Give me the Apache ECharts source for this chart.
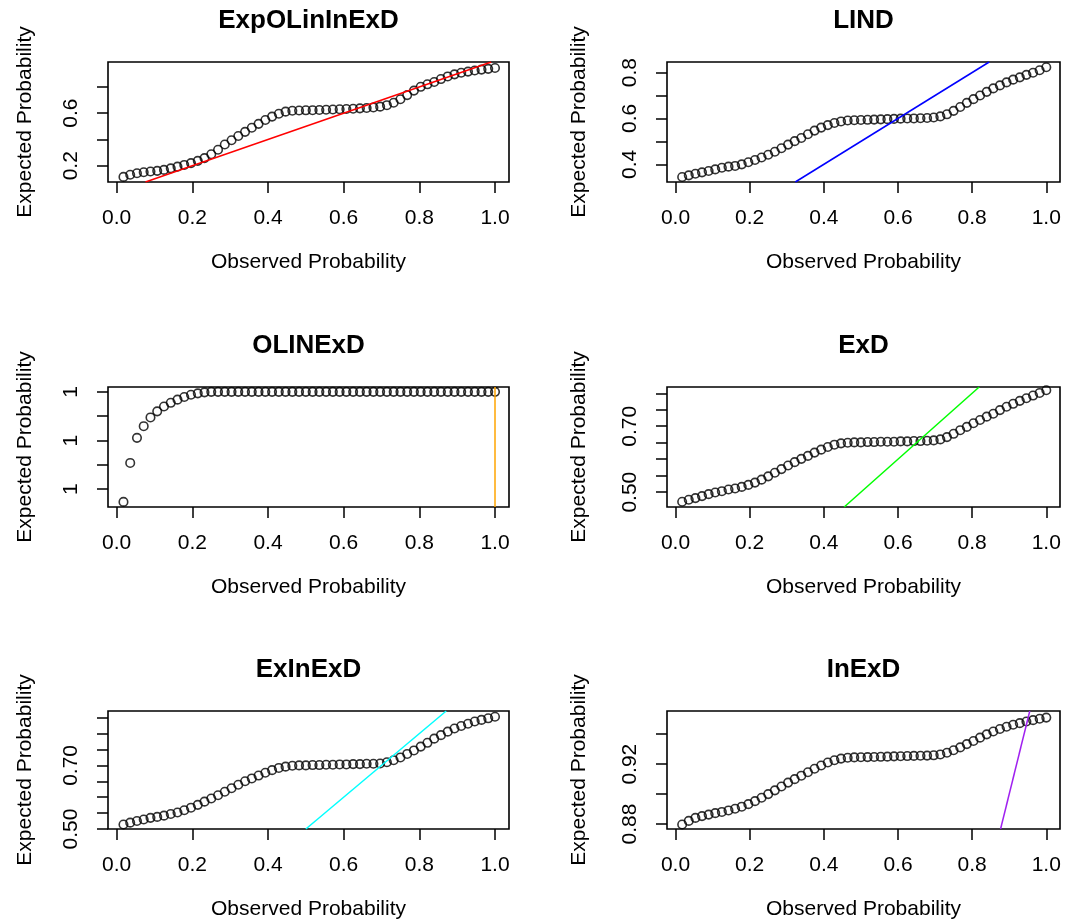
<!DOCTYPE html>
<html>
<head>
<meta charset="utf-8">
<title>PP plots</title>
<script src="https://cdn.jsdelivr.net/npm/echarts@6.0.0/dist/echarts.min.js"></script>
<style>
  html, body { margin: 0; padding: 0; background: #fff; }
  #main { width: 1072px; height: 921px; }
</style>
</head>
<body>
<div id="main"></div>
<script>
// observed probability (x) shared by every panel
const observed = [
  0.0179, 0.0357, 0.0536, 0.0714, 0.0893, 0.1071, 0.1250, 0.1429, 0.1607, 0.1786,
  0.1964, 0.2143, 0.2321, 0.2500, 0.2679, 0.2857, 0.3036, 0.3214, 0.3393, 0.3571,
  0.3750, 0.3929, 0.4107, 0.4286, 0.4464, 0.4643, 0.4821, 0.5000, 0.5179, 0.5357,
  0.5536, 0.5714, 0.5893, 0.6071, 0.6250, 0.6429, 0.6607, 0.6786, 0.6964, 0.7143,
  0.7321, 0.7500, 0.7679, 0.7857, 0.8036, 0.8214, 0.8393, 0.8571, 0.8750, 0.8929,
  0.9107, 0.9286, 0.9464, 0.9643, 0.9821, 1.0000
];

// expected probability, one list per model
const expOLinInExD = [
  0.115, 0.131, 0.143, 0.150, 0.156, 0.161, 0.168, 0.180, 0.193, 0.206,
  0.220, 0.237, 0.258, 0.287, 0.322, 0.362, 0.394, 0.426, 0.458, 0.489,
  0.519, 0.548, 0.574, 0.596, 0.612, 0.619, 0.621, 0.622, 0.623, 0.624,
  0.626, 0.628, 0.630, 0.632, 0.634, 0.637, 0.640, 0.644, 0.650, 0.661,
  0.680, 0.706, 0.738, 0.772, 0.801, 0.820, 0.838, 0.860, 0.880, 0.896,
  0.908, 0.917, 0.925, 0.932, 0.938, 0.944
];
const lind = [
  0.345, 0.352, 0.359, 0.365, 0.371, 0.378, 0.385, 0.390, 0.393, 0.400,
  0.409, 0.419, 0.430, 0.442, 0.455, 0.470, 0.486, 0.501, 0.515, 0.531,
  0.547, 0.560, 0.571, 0.580, 0.587, 0.591, 0.592, 0.593, 0.594, 0.595,
  0.596, 0.597, 0.598, 0.599, 0.600, 0.600, 0.601, 0.602, 0.604, 0.609,
  0.618, 0.633, 0.650, 0.668, 0.684, 0.700, 0.716, 0.731, 0.744, 0.757,
  0.769, 0.779, 0.790, 0.799, 0.810, 0.823
];
const olinExD = [
  0.99999548, 0.99999708, 0.99999811, 0.99999859, 0.99999895, 0.99999920, 0.99999940, 0.99999955, 0.99999968, 0.99999979,
  0.99999988, 0.99999994, 0.99999998, 1, 1, 1, 1, 1, 1, 1,
  1, 1, 1, 1, 1, 1, 1, 1, 1, 1,
  1, 1, 1, 1, 1, 1, 1, 1, 1, 1,
  1, 1, 1, 1, 1, 1, 1, 1, 1, 1,
  1, 1, 1, 1, 1, 1
];
const exD = [
  0.471, 0.477, 0.482, 0.488, 0.494, 0.499, 0.503, 0.508, 0.511, 0.516,
  0.522, 0.529, 0.538, 0.548, 0.559, 0.570, 0.581, 0.591, 0.601, 0.610,
  0.620, 0.629, 0.637, 0.644, 0.648, 0.650, 0.651, 0.651, 0.652, 0.652,
  0.653, 0.653, 0.653, 0.654, 0.654, 0.655, 0.655, 0.656, 0.657, 0.660,
  0.667, 0.677, 0.688, 0.698, 0.709, 0.719, 0.729, 0.738, 0.749, 0.759,
  0.768, 0.777, 0.785, 0.793, 0.801, 0.809
];
const exInExD = [
  0.514, 0.520, 0.525, 0.530, 0.535, 0.538, 0.542, 0.547, 0.552, 0.559,
  0.567, 0.576, 0.586, 0.596, 0.606, 0.617, 0.628, 0.639, 0.650, 0.659,
  0.668, 0.677, 0.685, 0.692, 0.696, 0.699, 0.700, 0.700, 0.701, 0.701,
  0.702, 0.702, 0.703, 0.703, 0.704, 0.704, 0.705, 0.705, 0.706, 0.710,
  0.716, 0.725, 0.736, 0.747, 0.759, 0.771, 0.784, 0.795, 0.806, 0.816,
  0.824, 0.831, 0.838, 0.843, 0.848, 0.853
];
const inExD = [
  0.8797, 0.8821, 0.8841, 0.8853, 0.8863, 0.8873, 0.8881, 0.8891, 0.8902, 0.8916,
  0.8933, 0.8953, 0.8976, 0.9000, 0.9025, 0.9051, 0.9077, 0.9100, 0.9123, 0.9146,
  0.9169, 0.9191, 0.9211, 0.9226, 0.9237, 0.9243, 0.9245, 0.9246, 0.9247, 0.9248,
  0.9249, 0.9250, 0.9252, 0.9253, 0.9254, 0.9255, 0.9256, 0.9257, 0.9259, 0.9265,
  0.9276, 0.9293, 0.9312, 0.9334, 0.9355, 0.9377, 0.9399, 0.9418, 0.9435, 0.9450,
  0.9463, 0.9474, 0.9485, 0.9494, 0.9503, 0.9511
];

// axis ticks and their labels ('' = tick without label)
const xTicks = [0, 0.2, 0.4, 0.6, 0.8, 1.0];
const xTickLabels = ['0.0', '0.2', '0.4', '0.6', '0.8', '1.0'];
const yTicks1 = [0.2, 0.4, 0.6, 0.8];
const yTickLabels1 = ['0.2', '', '0.6', ''];
const yTicks2 = [0.4, 0.5, 0.6, 0.7, 0.8];
const yTickLabels2 = ['0.4', '', '0.6', '', '0.8'];
const yTicks3 = [0.999996, 0.999997, 0.999998, 0.999999, 1.0];
const yTickLabels3 = ['1', '', '1', '', '1'];
const yTicks4 = [0.50, 0.55, 0.60, 0.65, 0.70, 0.75, 0.80];
const yTickLabels4 = ['0.50', '', '', '', '0.70', '', ''];
const yTicks5 = [0.50, 0.55, 0.60, 0.65, 0.70, 0.75, 0.80, 0.85];
const yTickLabels5 = ['0.50', '', '', '', '0.70', '', '', ''];
const yTicks6 = [0.88, 0.90, 0.92, 0.94];
const yTickLabels6 = ['0.88', '', '0.92', ''];

const titles = ['ExpOLinInExD', 'LIND', 'OLINExD', 'ExD', 'ExInExD', 'InExD'];

const panels = [
  { title: titles[0], ys: expOLinInExD, ticks: yTicks1, labels: yTickLabels1, lo: 0.076, hi: 0.990, color: '#ff0000', box: [108, 62, 401, 120] },
  { title: titles[1], ys: lind, ticks: yTicks2, labels: yTickLabels2, lo: 0.323, hi: 0.846, color: '#0000ff', box: [667, 62, 393, 120] },
  { title: titles[2], ys: olinExD, ticks: yTicks3, labels: yTickLabels3, lo: 0.99999527, hi: 1.0000002, color: '#ffa500', box: [108, 387, 401, 120] },
  { title: titles[3], ys: exD, ticks: yTicks4, labels: yTickLabels4, lo: 0.455, hi: 0.819, color: '#00ff00', box: [667, 387, 393, 120] },
  { title: titles[4], ys: exInExD, ticks: yTicks5, labels: yTickLabels5, lo: 0.500, hi: 0.871, color: '#00ffff', box: [108, 711, 401, 120] },
  { title: titles[5], ys: inExD, ticks: yTicks6, labels: yTickLabels6, lo: 0.8767, hi: 0.9555, color: '#a020f0', box: [667, 711, 393, 120] }
];

const font = 'Liberation Sans, Arial, Helvetica, sans-serif';

function labelFor(ticks, labels, v) {
  let best = 0;
  ticks.forEach((t, i) => {
    if (Math.abs(t - v) < Math.abs(ticks[best] - v)) best = i;
  });
  return labels[best];
}

const grid = [], xAxis = [], yAxis = [], series = [], title = [];

panels.forEach((p, i) => {
  const [left, top, width, height] = p.box;
  grid.push({
    left, top, width, height,
    show: true, borderColor: '#000', borderWidth: 1.6,
    backgroundColor: 'transparent', containLabel: false
  });
  title.push({
    text: p.title,
    left: left + width / 2, top: top - 54,
    textAlign: 'center', padding: 0,
    textStyle: { fontFamily: font, fontSize: 26, fontWeight: 'bold', color: '#000', lineHeight: 26 }
  });
  xAxis.push({
    type: 'value', gridIndex: i, min: -0.023, max: 1.037,
    splitLine: { show: false },
    axisLine: { show: false, onZero: false },
    axisTick: { show: true, inside: false, length: 11, customValues: xTicks, lineStyle: { color: '#000', width: 1.5 } },
    axisLabel: {
      customValues: xTicks, margin: 26, color: '#000', fontFamily: font, fontSize: 21,
      formatter: v => labelFor(xTicks, xTickLabels, v)
    },
    name: 'Observed Probability', nameLocation: 'middle', nameGap: 70,
    nameTextStyle: { fontFamily: font, fontSize: 21, color: '#000' }
  });
  const shown = p.ticks.filter((t, k) => p.labels[k] !== '');
  yAxis.push({
    type: 'value', gridIndex: i, min: p.lo, max: p.hi,
    splitLine: { show: false },
    axisLine: { show: false, onZero: false },
    axisTick: { show: true, inside: false, length: 11, customValues: p.ticks, lineStyle: { color: '#000', width: 1.5 } },
    axisLabel: {
      customValues: shown, rotate: 90, margin: 26, color: '#000', fontFamily: font, fontSize: 21,
      formatter: v => labelFor(p.ticks, p.labels, v)
    },
    name: 'Expected Probability', nameLocation: 'middle', nameGap: i % 2 === 0 ? 72 : 77,
    nameTextStyle: { fontFamily: font, fontSize: 21, color: '#000' }
  });
  series.push({
    type: 'scatter', xAxisIndex: i, yAxisIndex: i,
    data: observed.map((x, k) => [x, p.ys[k]]),
    symbol: 'circle', symbolSize: 8.5,
    itemStyle: { color: 'rgba(0,0,0,0)', borderColor: '#000', borderWidth: 1.6 },
    silent: true, z: 2
  });
  // reference line y = x, drawn across the visible y range
  series.push({
    type: 'line', xAxisIndex: i, yAxisIndex: i,
    data: [[p.lo, p.lo], [p.hi, p.hi]],
    showSymbol: false, symbol: 'none', clip: true,
    lineStyle: { color: p.color, width: 1.5 },
    silent: true, z: 3
  });
});

const chart = echarts.init(document.getElementById('main'), null, { renderer: 'canvas' });
chart.setOption({
  animation: false,
  backgroundColor: '#fff',
  title, grid, xAxis, yAxis, series
});
</script>
</body>
</html>
